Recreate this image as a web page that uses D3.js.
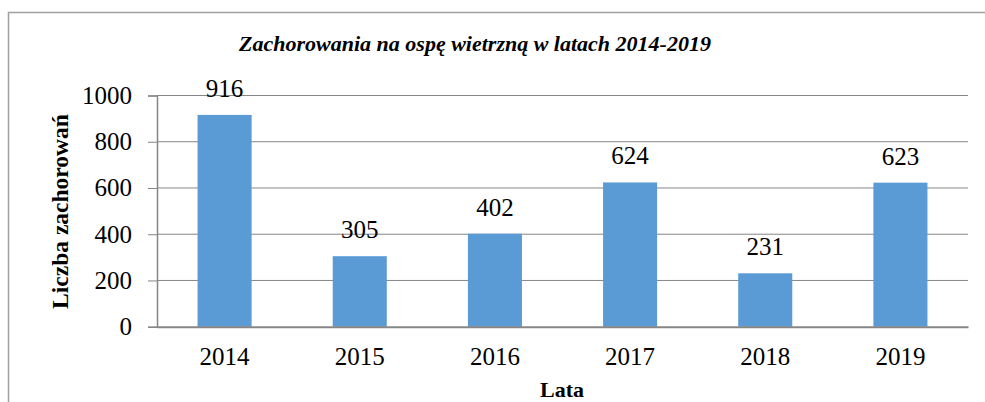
<!DOCTYPE html>
<html><head><meta charset="utf-8">
<script src="https://cdn.jsdelivr.net/npm/d3@7"></script>
<style>body{margin:0;background:#fff;overflow:hidden}svg{display:block}
text{font-family:"Liberation Serif","DejaVu Serif",serif}</style>
</head><body>
<script>
const years = ["2014","2015","2016","2017","2018","2019"];
const cases = [916, 305, 402, 624, 231, 623];
const yTicks = [0, 200, 400, 600, 800, 1000];
const title = "Zachorowania na ospę wietrzną w latach 2014-2019";
const xTitle = "Lata";
const yTitle = "Liczba zachorowań";

const W = 985, H = 402;
const svg = d3.select("body").append("svg").attr("width", W).attr("height", H);

// partial text above frame
svg.append("text").attr("x", 78).attr("y", -12).attr("text-anchor","middle")
  .attr("font-size", 22).text("p");

// frame
svg.append("rect").attr("x", 8.5).attr("y", 12.5).attr("width", 1000).attr("height", 400)
  .attr("fill", "none").attr("stroke", "#a0a0a0").attr("stroke-width", 1.5);

const m = {left: 157, right: 968, top: 95.5, bottom: 326.7};
const x = d3.scaleBand().domain(years).range([m.left, m.right]).paddingInner(0.6).paddingOuter(0.3);
const y = d3.scaleLinear().domain([0, 1000]).range([m.bottom, m.top]);

// gridlines
svg.append("g").selectAll("line").data(yTicks.filter(d => d > 0)).join("line")
  .attr("x1", m.left).attr("x2", m.right)
  .attr("y1", d => y(d)).attr("y2", d => y(d))
  .attr("stroke", "#868686").attr("stroke-width", 1);

// bars
svg.append("g").selectAll("rect").data(cases).join("rect")
  .attr("x", (d, i) => x(years[i])).attr("width", x.bandwidth())
  .attr("y", d => y(d)).attr("height", d => y(0) - y(d))
  .attr("fill", "#5b9bd5");

// y axis
const yAxis = d3.axisLeft(y).tickValues(yTicks).tickFormat(d3.format("d")).tickSize(9).tickPadding(16);
const gy = svg.append("g").attr("transform", `translate(${m.left},0)`).call(yAxis);
gy.attr("font-family", null);
gy.select(".domain").attr("stroke", "#868686").attr("stroke-width", 1.5);
gy.selectAll(".tick line").attr("stroke", "#868686").attr("stroke-width", 1);
gy.selectAll("text").attr("font-size", 25).attr("fill", "#000");

// x axis
const xAxis = d3.axisBottom(x).tickSize(0).tickPadding(21);
const gx = svg.append("g").attr("transform", `translate(0,${m.bottom})`).call(xAxis);
gx.attr("font-family", null);
gx.select(".domain").attr("stroke", "#868686").attr("stroke-width", 2);
gx.selectAll("text").attr("font-size", 25).attr("fill", "#000");

// value labels
svg.append("g").selectAll("text").data(cases).join("text")
  .attr("x", (d, i) => x(years[i]) + x.bandwidth() / 2)
  .attr("y", d => y(d) - 18)
  .attr("text-anchor", "middle")
  .attr("font-size", 25).attr("fill", "#000")
  .text(d => d);

// title
svg.append("text").attr("x", 475).attr("y", 51).attr("text-anchor", "middle")
  .attr("font-size", 22).attr("font-weight", "bold")
  .attr("font-style", "italic").text(title);

// x title
svg.append("text").attr("x", 562).attr("y", 397).attr("text-anchor", "middle")
  .attr("font-size", 22).attr("font-weight", "bold").text(xTitle);

// y title
svg.append("text").attr("transform", "translate(68,211.5) rotate(-90)").attr("text-anchor", "middle")
  .attr("font-size", 23.5).attr("font-weight", "bold").text(yTitle);
</script>
</body></html>
